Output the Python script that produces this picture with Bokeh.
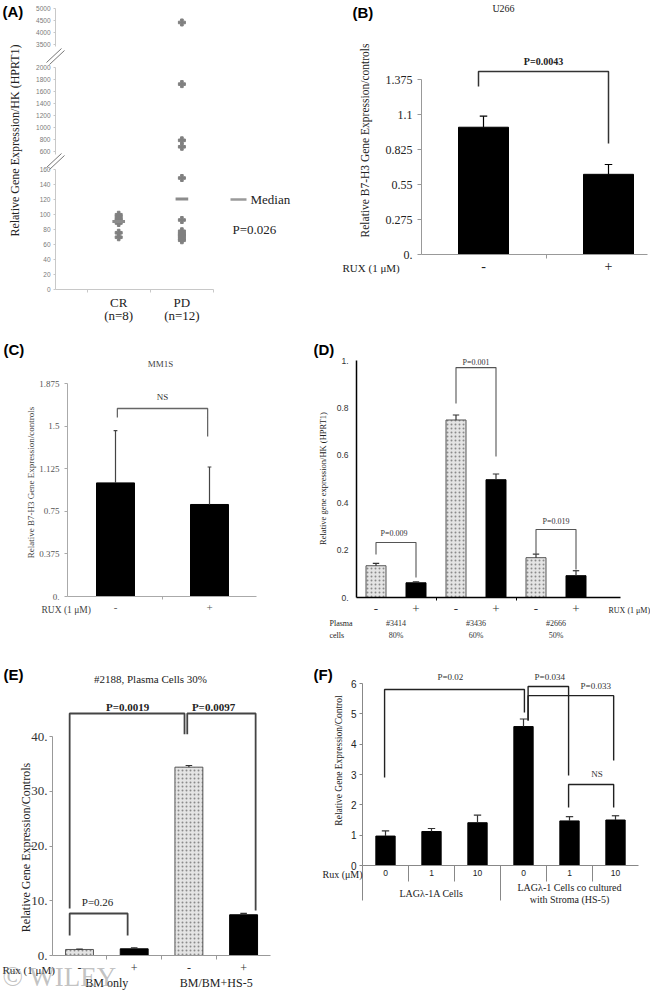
import math
from bokeh.plotting import figure
from bokeh.layouts import row, column
from bokeh.models import Range1d, Label, FixedTicker, LinearAxis
from bokeh.core.properties import value
from bokeh.embed import file_html
from bokeh.resources import INLINE

SERIF = "Liberation Serif"
SANS = "Liberation Sans"
HALF_PI = math.pi / 2

# ---------------- data ----------------
# (A) expression of each patient, broken y axis
A_groups = ["CR", "PD"]
A_group_n = ["(n=8)", "(n=12)"]
A_cr = [99, 96, 93, 91, 90, 88, 75, 69]
A_pd = [4430, 1720, 790, 683, 148, 92, 77, 74, 72, 70, 67, 65]
A_median = [90, 120]
A_ticks_low = [0, 20, 40, 60, 80, 100, 120, 140, 160]
A_ticks_mid = [600, 800, 1000, 1200, 1400, 1600, 1800, 2000]
A_ticks_high = [3500, 4000, 4500, 5000]

# (B) U266
B_labels = ["-", "+"]
B_values = [1.0, 0.63]
B_errors = [0.087, 0.077]
B_ticks = [0, 0.275, 0.55, 0.825, 1.1, 1.375]
B_tick_labels = ["0.", "0.275", "0.55", "0.825", "1.1", "1.375"]

# (C) MM1S
C_labels = ["-", "+"]
C_values = [1.0, 0.81]
C_errors = [0.46, 0.33]
C_ticks = [0, 0.375, 0.75, 1.125, 1.5, 1.875]
C_tick_labels = ["0.", "0.375", "0.75", "1.125", "1.5", "1.875"]

# (D) patients
D_samples = ["#3414", "#3436", "#2666"]
D_plasma = ["80%", "60%", "50%"]
D_labels = ["-", "+", "-", "+", "-", "+"]
D_values = [0.134, 0.062, 0.749, 0.497, 0.168, 0.092]
D_errors = [0.010, 0.004, 0.021, 0.024, 0.015, 0.021]
D_ticks = [0, 0.2, 0.4, 0.6, 0.8, 1.0]
D_tick_labels = ["0.", "0.2", "0.4", "0.6", "0.8", "1."]

# (E) #2188
E_groups = ["BM only", "BM/BM+HS-5"]
E_labels = ["-", "+", "-", "+"]
E_values = [1.1, 1.22, 34.4, 7.44]
E_errors = [0.05, 0.18, 0.3, 0.25]
E_ticks = [0, 10, 20, 30, 40]
E_tick_labels = ["0.", "10.", "20.", "30.", "40."]

# (F) LAG lambda-1
F_groups = ["LAGλ-1A Cells", "LAGλ-1 Cells co cultured", "with Stroma (HS-5)"]
F_doses = ["0", "1", "10", "0", "1", "10"]
F_values = [0.97, 1.12, 1.41, 4.58, 1.47, 1.50]
F_errors = [0.17, 0.10, 0.25, 0.25, 0.14, 0.14]
F_ticks = [0, 1, 2, 3, 4, 5, 6]

# significance brackets: (x_left, x_right, y_left_end, y_top, y_right_end)
B_brackets = [(-0.04, 1.0, 1.32, 1.438, 0.872)]
B_ptext = [("P=0.0043", 0.48, 1.516)]
C_brackets = [(0.02, 0.98, 1.576, 1.655, 1.408)]
C_ptext = [("NS", 0.5, 1.76)]
D_brackets = [(0, 1, 0.181, 0.232, 0.084), (2, 3, 0.819, 0.970, 0.595), (4, 5, 0.181, 0.287, 0.118)]
D_ptext = [("P=0.009", 0.45, 0.27), ("P=0.001", 2.5, 0.992), ("P=0.019", 4.5, 0.32)]
E_brackets = [(-0.18, 0.88, 3.65, 7.67, 3.65), (-0.18, 1.92, 8.58, 44.2, 40.4), (1.97, 3.22, 40.4, 44.2, 8.2)]
E_ptext = [("P=0.26", 0.33, 9.7, False), ("P=0.0019", 0.88, 45.3, True), ("P=0.0097", 2.45, 45.3, True)]
F_brackets = [(-0.02, 3.02, 2.9, 5.8, 5.04), (3.1, 3.98, 4.78, 5.9, 2.97),
              (3.1, 4.96, 4.78, 5.6, 3.46), (3.98, 4.96, 1.91, 2.67, 1.91)]
F_ptext = [("P=0.02", 1.41, 6.23), ("P=0.034", 3.57, 6.23), ("P=0.033", 4.57, 5.93), ("NS", 4.6, 3.03)]


# ---------------- helpers ----------------
def lin(v0, p0, v1, p1):
    return lambda px: v0 + (px - p0) * (v1 - v0) / (p1 - p0)


def make_fig(box, xmap, ymap):
    bx, by, bw, bh = box
    X = lin(*xmap)
    Y = lin(*ymap)
    p = figure(width=bw, height=bh, x_range=Range1d(X(bx), X(bx + bw)),
               y_range=Range1d(Y(by + bh), Y(by)), toolbar_location=None,
               output_backend="svg", x_axis_type=None, y_axis_type=None,
               min_border_left=0, min_border_right=0, min_border_top=0, min_border_bottom=0,
               outline_line_color=None, background_fill_color="white",
               border_fill_color="white")
    return p, X, Y


def label(p, x, y, text, size, font=SERIF, align="center", bold=False,
          color="#222222", angle=0.0, alpha=1.0):
    p.add_layout(Label(x=x, y=y, text=text, text_font=font, text_font_size=f"{size}px",
                       text_align=align, text_baseline="middle", text_color=color,
                       text_font_style="bold" if bold else "normal", angle=angle,
                       text_alpha=alpha))


def add_axis(p, side, fixed, ticks, labels=None, font=SERIF, size=10, color="#222222",
             line_color="#888888", line_width=1, tick_out=3, standoff=4,
             bounds=None, minor=None, minor_out=0, range_name="default"):
    kw = {"y_range_name": range_name} if side == "left" else {}
    ax = LinearAxis(fixed_location=fixed, **kw)
    ax.ticker = FixedTicker(ticks=ticks, minor_ticks=minor or [])
    if labels is not None:
        ax.major_label_overrides = {t: s for t, s in zip(ticks, labels)}
    ax.major_label_text_font = font
    ax.major_label_text_font_size = f"{size}px"
    ax.major_label_text_color = color
    ax.axis_line_color = line_color
    ax.axis_line_width = line_width
    ax.major_tick_line_color = line_color
    ax.major_tick_out = tick_out
    ax.major_tick_in = 0
    ax.minor_tick_line_color = line_color
    ax.minor_tick_out = minor_out
    ax.minor_tick_in = 0
    ax.major_label_standoff = standoff
    if bounds is not None:
        ax.bounds = bounds
    p.add_layout(ax, side)
    return ax


def bars(p, xs, vals, errs, width, styles, err_color, cap):
    for x, v, e, s in zip(xs, vals, errs, styles):
        if s == "light":
            p.vbar(x=[x], top=[v], width=width, bottom=0, fill_color="#e4e4e4",
                   line_color="#555555", line_width=1, hatch_pattern="dot",
                   hatch_color="#8a8a8a", hatch_scale=4, hatch_weight=1)
        else:
            p.vbar(x=[x], top=[v], width=width, bottom=0, fill_color="black",
                   line_color="black")
    tops = [v + e for v, e in zip(vals, errs)]
    p.segment(x0=xs, y0=vals, x1=xs, y1=tops, line_color=err_color, line_width=1.2)
    p.segment(x0=[x - cap for x in xs], y0=tops, x1=[x + cap for x in xs], y1=tops,
              line_color=err_color, line_width=1.2)


def brackets(p, specs, color, width):
    p.multi_line(xs=[[a, a, b, b] for a, b, _, _, _ in specs],
                 ys=[[yl, yt, yt, yr] for _, _, yl, yt, yr in specs],
                 line_color=color, line_width=width)


def ptexts(p, items, size, bold=False, color="#222222"):
    for it in items:
        txt, x, y = it[0], it[1], it[2]
        b = it[3] if len(it) > 3 else bold
        p.text(x=[x], y=[y], text=[txt], text_font=value(SERIF),
               text_font_size=value(f"{size}px"), text_align="center",
               text_baseline="middle", text_color=color,
               text_font_style="bold" if b else "normal")


# ================= (A) broken axis: three y ranges in one frame =================
A, X, Y = make_fig((0, 0, 325, 330), (0, 55, 2.5, 213), (0, 288.5, 160, 168.5))
Ymid = lin(600, 151.3, 2000, 66.7)
Yhigh = lin(3500, 44.3, 5000, 8.3)
A.extra_y_ranges = {"mid": Range1d(Ymid(330), Ymid(0)), "high": Range1d(Yhigh(330), Yhigh(0))}

segments = [("default", A_ticks_low, 0, 160, (0, 160)),
            ("mid", A_ticks_mid, 600, 2000, (560, 2000)),
            ("high", A_ticks_high, 3500, 5000, (3440, 5000))]
for name, ticks, lo, hi, bnd in segments:
    add_axis(A, "left", 0, ticks, font=SANS, size=6.5, color="#7a7a7a",
             line_color="#c8c8c8", tick_out=2, standoff=3, bounds=bnd, range_name=name)
    cr = [v for v in A_cr if lo <= v <= hi]
    pd_ = [v for v in A_pd if lo <= v <= hi]
    if cr:
        A.scatter(x=[1] * len(cr), y=cr, marker="plus", size=7, color="#808080",
                  y_range_name=name)
    if pd_:
        A.scatter(x=[2] * len(pd_), y=pd_, marker="plus", size=7, color="#808080",
                  y_range_name=name)
add_axis(A, "below", 0, [], line_color="#c8c8c8", tick_out=0, bounds=(0, 2.5),
         minor=[0.5, 1.5, 2.5], minor_out=3)
A.segment(x0=[1 - 0.1, 2 - 0.1], y0=A_median, x1=[1 + 0.1, 2 + 0.1], y1=A_median,
          line_color="#8c8c8c", line_width=3)
# axis break marks
A.segment(x0=[X(46), X(49), X(46), X(49)], y0=[Y(62), Y(64), Y(167), Y(169)],
          x1=[X(61), X(64), X(61), X(64)], y1=[Y(48), Y(50), Y(153), Y(155)],
          line_color="#777777", line_width=1)
for i, (g, n) in enumerate(zip(A_groups, A_group_n)):
    label(A, i + 1, Y(302), g, 13)
    label(A, i + 1, Y(315), n, 13)
A.segment(x0=[X(230)], y0=[Y(199)], x1=[X(246)], y1=[Y(199)], line_color="#9a9a9a",
          line_width=2.5)
label(A, X(250), Y(199), "Median", 13, align="left")
label(A, X(232), Y(229), "P=0.026", 13, align="left")
label(A, X(2), Y(11), "(A)", 15, font=SANS, align="left", bold=True, color="black")
label(A, X(14), Y(140), "Relative Gene Expression/HK (HPRT1)", 12, angle=HALF_PI)

# ================= (B) =================
B, X, Y = make_fig((325, 0, 325, 330), (0, 483, 1, 608), (0, 254, 1.375, 79))
bars(B, [0, 1], B_values, B_errors, 0.4, ["dark", "dark"], "black", 0.03)
brackets(B, B_brackets, "#333333", 1.5)
ptexts(B, B_ptext, 10, bold=True)
add_axis(B, "left", X(421), B_ticks, B_tick_labels, size=12, line_color="#999999",
         tick_out=4, standoff=5, bounds=(0, 1.375))
add_axis(B, "below", 0, [0, 1], B_labels, size=14, line_color="#999999",
         tick_out=0, standoff=2, minor=[0.5], minor_out=4, bounds=(X(421), X(647)))
label(B, X(352), Y(12), "(B)", 15, font=SANS, align="left", bold=True, color="black")
label(B, X(503), Y(8), "U266", 10)
label(B, X(342), Y(267), "RUX (1 μM)", 11, align="left")
label(B, X(364), Y(140), "Relative B7-H3 Gene Expression/controls", 11.5, angle=HALF_PI)

# ================= (C) =================
C, X, Y = make_fig((0, 330, 313, 330), (0, 115, 1, 209), (0, 596, 1.875, 383))
bars(C, [0, 1], C_values, C_errors, 0.404, ["dark", "dark"], "#444444", 0.02)
brackets(C, C_brackets, "#666666", 1.3)
ptexts(C, C_ptext, 9, color="#333333")
add_axis(C, "left", X(67), C_ticks, C_tick_labels, size=9, color="#555555",
         line_color="#aaaaaa", tick_out=3, standoff=5, bounds=(0, 1.875))
add_axis(C, "below", 0, [0, 1], C_labels, size=11, color="#555555", line_color="#aaaaaa",
         tick_out=0, standoff=4, minor=[0.5], minor_out=3, bounds=(X(67), X(256)))
label(C, X(3), Y(349), "(C)", 15, font=SANS, align="left", bold=True, color="black")
label(C, X(160), Y(363), "MM1S", 9, color="#444444")
label(C, X(41), Y(609), "RUX (1 μM)", 9.5, align="left", color="#444444")
label(C, X(30), Y(482), "Relative B7-H3 Gene Expression/controls", 9, angle=HALF_PI,
      color="#444444")

# ================= (D) =================
D, X, Y = make_fig((313, 330, 337, 330), (0, 375.5, 1, 415.5), (0, 597, 1, 360))
bars(D, list(range(6)), D_values, D_errors, 0.5, ["light", "dark"] * 3, "#333333", 0.08)
brackets(D, D_brackets, "#555555", 1.1)
ptexts(D, D_ptext, 8, color="#333333")
add_axis(D, "left", X(356), D_ticks, D_tick_labels, font=SANS, size=8.5, color="#333333",
         line_color="black", line_width=1.5, tick_out=0, standoff=8, bounds=(0, 1.0))
add_axis(D, "below", 0, list(range(6)), D_labels, size=13, color="#333333",
         line_color="black", line_width=1.5, tick_out=0, standoff=4,
         minor=[1.5, 3.5], minor_out=3, bounds=(X(356), X(620)))
label(D, X(313), Y(349), "(D)", 15, font=SANS, align="left", bold=True, color="black")
label(D, X(322), Y(478), "Relative gene expression/HK (HPRT1)", 8.5, angle=HALF_PI)
label(D, X(608), Y(610), "RUX (1 μM)", 8, align="left")
label(D, X(329), Y(623), "Plasma", 8, align="left")
label(D, X(329), Y(635), "cells", 8, align="left")
for i, (s, pc) in enumerate(zip(D_samples, D_plasma)):
    label(D, 2 * i + 0.5, Y(623), s, 8, color="#333333")
    label(D, 2 * i + 0.5, Y(635), pc, 8, color="#333333")

# ================= (E) =================
E, X, Y = make_fig((0, 660, 313, 336), (0, 79, 1, 133.7), (0, 955, 40, 736))
bars(E, list(range(4)), E_values, E_errors, 0.51, ["light", "dark"] * 2, "#333333", 0.06)
brackets(E, E_brackets, "#444444", 1.8)
ptexts(E, E_ptext, 11)
add_axis(E, "left", X(52), E_ticks, E_tick_labels, size=13, color="#333333",
         line_color="#999999", tick_out=3, standoff=2, bounds=(0, 40))
add_axis(E, "below", 0, list(range(4)), E_labels, size=12, color="#333333",
         line_color="#999999", tick_out=0, standoff=4, minor=[0.5, 1.5, 2.5], minor_out=4,
         bounds=(X(52), X(270)))
label(E, X(3), Y(674), "(E)", 15, font=SANS, align="left", bold=True, color="black")
label(E, X(150), Y(678), "#2188, Plasma Cells 30%", 11)
label(E, X(25), Y(847), "Relative Gene Expression/Controls", 12, angle=HALF_PI)
label(E, X(2), Y(969), "Rux (1 μM)", 11, align="left")
for i, g in enumerate(E_groups):
    label(E, 2 * i + 0.5, Y(982), g, 12)
label(E, X(2), Y(976), "© WILEY", 27, align="left", color="#8f8f8f", alpha=0.55)

# ================= (F) =================
F, X, Y = make_fig((313, 660, 337, 336), (0, 385, 1, 431), (0, 865, 6, 683))
bars(F, list(range(6)), F_values, F_errors, 0.42, ["dark"] * 6, "#333333", 0.08)
brackets(F, F_brackets, "#222222", 1.4)
ptexts(F, F_ptext, 9, color="#333333")
add_axis(F, "left", X(362), F_ticks, font=SANS, size=10, color="#222222",
         line_color="#888888", tick_out=3, standoff=3, bounds=(0, 6))
add_axis(F, "below", 0, list(range(6)), F_doses, font=SANS, size=8.5, color="#222222",
         line_color="#888888", tick_out=0, standoff=4, bounds=(X(362), X(638)))
# category separators below the axis (short within a group, long between groups)
short_sep = [0.5, 1.5, 3.5, 4.5]
long_sep = [X(362), 2.5]
F.segment(x0=short_sep, y0=[0] * 4, x1=short_sep, y1=[Y(881)] * 4,
          line_color="#888888", line_width=1)
F.segment(x0=long_sep, y0=[0, 0], x1=long_sep, y1=[Y(900), Y(900)],
          line_color="#888888", line_width=1)
label(F, X(313), Y(674), "(F)", 15, font=SANS, align="left", bold=True, color="black")
label(F, X(338), Y(760), "Relative Gene Expression/Control", 9.5, angle=HALF_PI)
label(F, X(322), Y(874), "Rux (μM)", 10, align="left")
label(F, 1, Y(893), F_groups[0], 10)
label(F, 4, Y(887), F_groups[1], 10)
label(F, 4, Y(899), F_groups[2], 10)

layout = column(row(A, B), row(C, D), row(E, F))
open("out.html", "w").write(file_html(layout, INLINE))
